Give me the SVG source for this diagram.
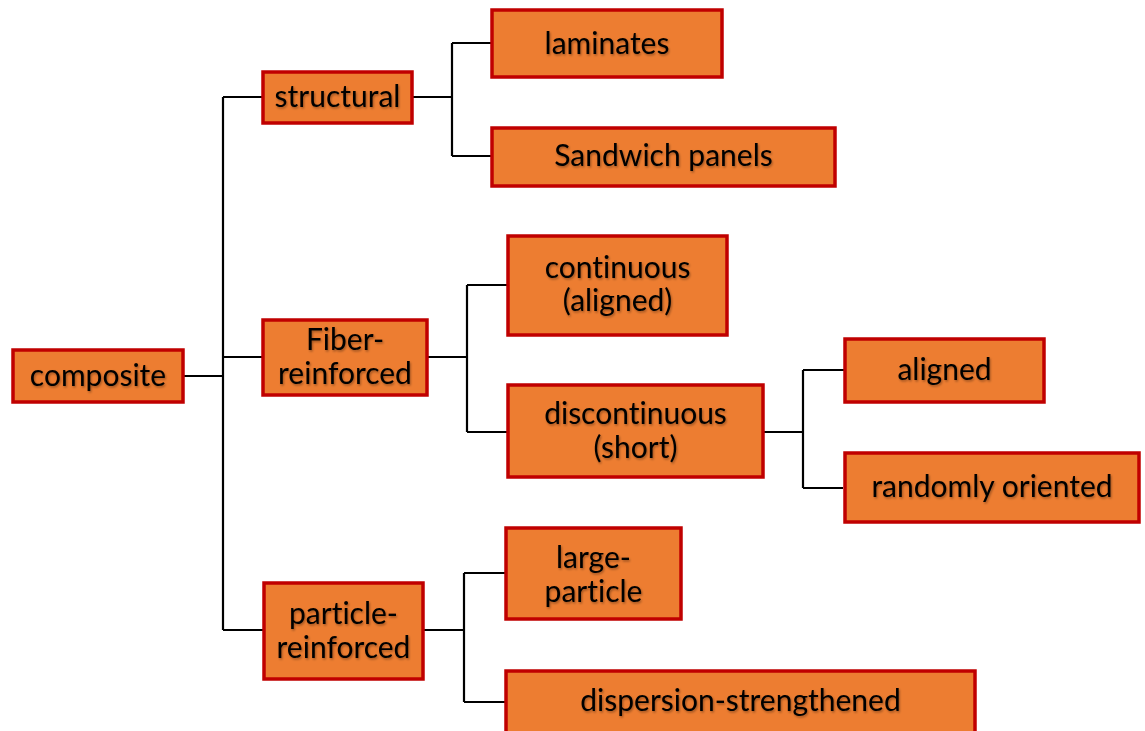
<svg xmlns="http://www.w3.org/2000/svg" width="1145" height="731" viewBox="0 0 1145 731">
<style>
.box{fill:#ED7D31;stroke:#C00000;stroke-width:3.5}
.t{font-family:Lato,"Open Sans","Liberation Sans",sans-serif;font-size:30px;fill:#000;text-anchor:middle;font-variant-ligatures:none;filter:url(#sh)}
.ln{fill:none;stroke:#000;stroke-width:2.2}
</style>
<defs>
<filter id="sh" x="-10%" y="-20%" width="120%" height="150%">
<feDropShadow dx="1" dy="1.5" stdDeviation="0.8" flood-color="#000" flood-opacity="0.35"/>
</filter>
</defs>
<g id="connectors">
<path class="ln" d="M183 376H223M223 97V630M223 97H263M223 357H263M223 630H263"/>
<path class="ln" d="M412 97H452M452 43V156M452 43H492M452 156H492"/>
<path class="ln" d="M427 357H467M467 285V432M467 285H507M467 432H507"/>
<path class="ln" d="M764 432H803M803 370V488M803 370H844M803 488H843"/>
<path class="ln" d="M424 630H464M464 573V702M464 573H505M464 702H505"/>
</g>
<g id="composite"><rect class="box" x="13" y="350" width="170" height="52"/><text class="t" x="98" y="386">composite</text></g>
<g id="structural"><rect class="box" x="263" y="72" width="149" height="51"/><text class="t" x="337.5" y="107">structural</text></g>
<g id="laminates"><rect class="box" x="492" y="10" width="230" height="67"/><text class="t" x="607" y="54">laminates</text></g>
<g id="sandwich"><rect class="box" x="492" y="128" width="343" height="58"/><text class="t" x="663.5" y="166">Sandwich panels</text></g>
<g id="fiber"><rect class="box" x="263" y="320" width="164" height="75"/><text class="t" x="345" y="350">Fiber-</text><text class="t" x="345" y="384">reinforced</text></g>
<g id="continuous"><rect class="box" x="508" y="236" width="219" height="99"/><text class="t" x="617.5" y="278">continuous</text><text class="t" x="617.5" y="311">(aligned)</text></g>
<g id="discontinuous"><rect class="box" x="508" y="385" width="255" height="92"/><text class="t" x="635.5" y="424">discontinuous</text><text class="t" x="635.5" y="458">(short)</text></g>
<g id="aligned"><rect class="box" x="845" y="339" width="199" height="63"/><text class="t" x="944.5" y="380">aligned</text></g>
<g id="randomly"><rect class="box" x="845" y="453" width="294" height="69"/><text class="t" x="992" y="497">randomly oriented</text></g>
<g id="particle"><rect class="box" x="264" y="583" width="159" height="96"/><text class="t" x="343.5" y="624">particle-</text><text class="t" x="343.5" y="658">reinforced</text></g>
<g id="large"><rect class="box" x="506" y="528" width="175" height="91"/><text class="t" x="593.5" y="568">large-</text><text class="t" x="593.5" y="602">particle</text></g>
<g id="dispersion"><rect class="box" x="506" y="671" width="469" height="70"/><text class="t" x="740.5" y="711">dispersion-strengthened</text></g>
</svg>
